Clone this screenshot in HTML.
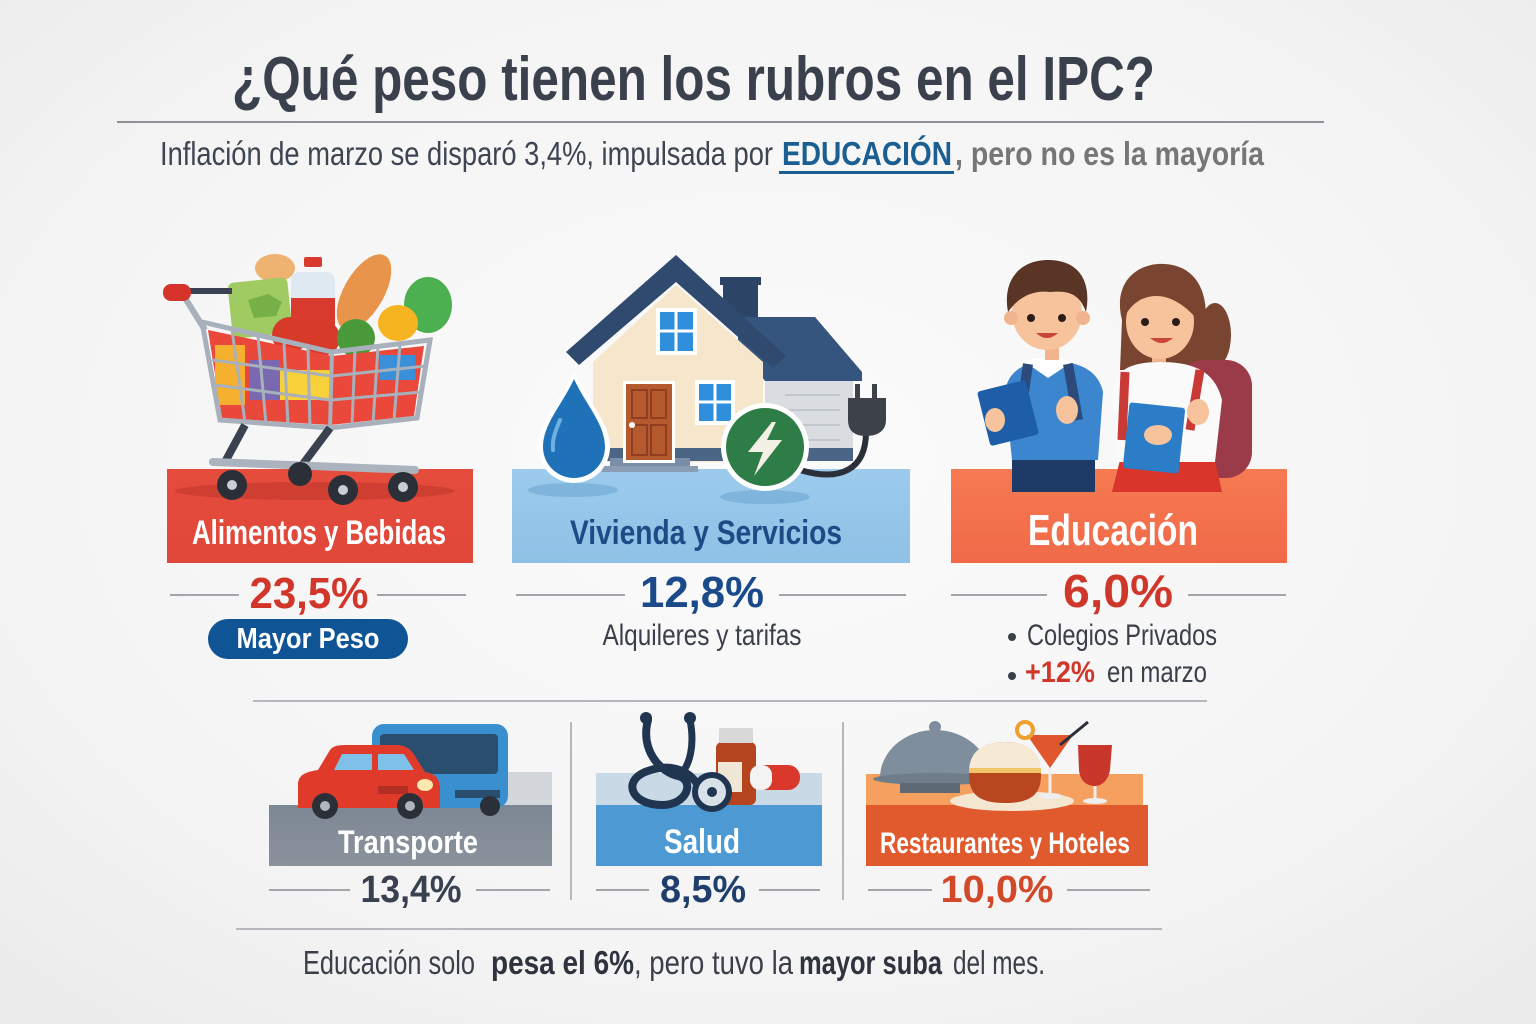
<!DOCTYPE html>
<html><head><meta charset="utf-8"><style>
html,body{margin:0;padding:0;width:1536px;height:1024px;overflow:hidden;background:#f2f2f2}
svg{display:block}
text{font-family:"Liberation Sans Narrow","Liberation Sans",sans-serif}
.b{font-weight:bold}
</style></head><body>
<svg width="1536" height="1024" viewBox="0 0 1536 1024" xmlns="http://www.w3.org/2000/svg">
<defs>
<radialGradient id="bg" cx="50%" cy="45%" r="70%"><stop offset="0" stop-color="#fbfbfb"/><stop offset="0.7" stop-color="#f4f4f4"/><stop offset="1" stop-color="#ececec"/></radialGradient>
<linearGradient id="gRed" x1="0" y1="0" x2="0" y2="1"><stop offset="0" stop-color="#e64c3c"/><stop offset="1" stop-color="#e0473a"/></linearGradient>
<linearGradient id="gBlue" x1="0" y1="0" x2="0" y2="1"><stop offset="0" stop-color="#9ccbec"/><stop offset="1" stop-color="#8fc1e6"/></linearGradient>
<linearGradient id="gOr" x1="0" y1="0" x2="0" y2="1"><stop offset="0" stop-color="#f67a52"/><stop offset="1" stop-color="#f06a48"/></linearGradient>
<linearGradient id="gGray" x1="0" y1="0" x2="0" y2="1"><stop offset="0" stop-color="#7d8794"/><stop offset="1" stop-color="#8a929c"/></linearGradient>
</defs>
<rect width="1536" height="1024" fill="url(#bg)"/>

<!-- Title -->
<text x="232" y="100" font-size="62" class="b" fill="#3b414c" textLength="923" lengthAdjust="spacingAndGlyphs">¿Qué peso tienen los rubros en el IPC?</text>
<line x1="117" y1="122" x2="1324" y2="122" stroke="#8e9298" stroke-width="2"/>
<text x="160" y="165" font-size="33" fill="#3d4452" textLength="613" lengthAdjust="spacingAndGlyphs">Inflación de marzo se disparó 3,4%, impulsada por</text>
<text x="782" y="165" font-size="33" class="b" fill="#1b5e92" textLength="170" lengthAdjust="spacingAndGlyphs">EDUCACIÓN</text>
<rect x="779" y="171" width="175" height="3" fill="#1b5e92"/>
<text x="955" y="165" font-size="33" class="b" fill="#767676" textLength="309" lengthAdjust="spacingAndGlyphs">, pero no es la mayoría</text>

<!-- ===== Panel 1: Alimentos ===== -->
<rect x="167" y="469" width="306" height="94" fill="url(#gRed)"/>
<ellipse cx="315" cy="491" rx="140" ry="9" fill="#c43a2e" opacity="0.7"/>
<!-- food behind -->
<ellipse cx="275" cy="268" rx="20" ry="14" fill="#eeb271"/>
<rect x="230" y="280" width="60" height="56" rx="6" fill="#9fcb62" transform="rotate(-6 260 308)"/>
<path d="M248 300 l20 -6 l14 8 l-6 14 l-22 2z" fill="#78b048"/>
<rect x="291" y="272" width="44" height="56" rx="8" fill="#dfe9f2"/>
<rect x="291" y="298" width="44" height="32" fill="#d93a2e"/>
<rect x="304" y="257" width="18" height="10" rx="2" fill="#d93a2e"/>
<ellipse cx="364" cy="292" rx="20" ry="42" fill="#e8944a" transform="rotate(30 364 292)"/>
<ellipse cx="428" cy="305" rx="24" ry="28" fill="#4caf50"/>
<ellipse cx="398" cy="323" rx="20" ry="18" fill="#f5b420"/>
<circle cx="290" cy="335" r="18" fill="#d83a2a"/>
<circle cx="322" cy="338" r="18" fill="#d83a2a"/>
<circle cx="356" cy="338" r="19" fill="#4a9a3a"/>
<!-- basket contents -->
<polygon points="208,330 332,356 424,346 414,416 330,425 222,418" fill="#e9483a"/>
<rect x="215" y="345" width="30" height="60" fill="#f6b030"/>
<rect x="250" y="360" width="30" height="40" fill="#7a69b0"/>
<rect x="280" y="370" width="50" height="30" fill="#f7d03a"/>
<rect x="380" y="355" width="35" height="25" fill="#3a90d8"/>
<!-- grid -->
<g stroke="#a7b0bb" stroke-width="3" fill="none">
<polygon points="202,322 332,352 430,340 417,418 330,428 220,420" stroke-width="5"/>
<line x1="332" y1="352" x2="330" y2="428" stroke-width="4"/>
<line x1="212" y1="360" x2="331" y2="376"/><line x1="215" y1="385" x2="330" y2="400"/>
<line x1="332" y1="376" x2="426" y2="366"/><line x1="331" y1="400" x2="422" y2="392"/>
<line x1="232" y1="330" x2="245" y2="422"/><line x1="258" y1="336" x2="266" y2="424"/><line x1="284" y1="342" x2="288" y2="426"/><line x1="308" y1="347" x2="310" y2="427"/>
<line x1="355" y1="350" x2="352" y2="426"/><line x1="378" y1="347" x2="373" y2="424"/><line x1="400" y1="344" x2="394" y2="421"/>
</g>
<path d="M185 298 L205 330" stroke="#a7b0bb" stroke-width="6"/>
<line x1="188" y1="291" x2="232" y2="291" stroke="#3a4150" stroke-width="6"/>
<rect x="163" y="284" width="28" height="17" rx="8" fill="#d6332a"/>
<path d="M245 425 L225 462 M330 428 L300 468" stroke="#3a4150" stroke-width="8" fill="none"/>
<line x1="213" y1="462" x2="415" y2="470" stroke="#aab3be" stroke-width="8" stroke-linecap="round"/>
<g fill="#2a2f38"><circle cx="300" cy="474" r="12"/><circle cx="232" cy="485" r="15"/><circle cx="343" cy="490" r="15"/><circle cx="403" cy="487" r="15"/></g>
<g fill="#c9ced4"><circle cx="232" cy="485" r="5"/><circle cx="343" cy="490" r="5"/><circle cx="403" cy="487" r="5"/></g>
<text x="319" y="544" font-size="34" class="b" fill="#fff" text-anchor="middle" textLength="254" lengthAdjust="spacingAndGlyphs">Alimentos y Bebidas</text>
<line x1="170" y1="595" x2="239" y2="595" stroke="#a2a6ab" stroke-width="2"/>
<line x1="377" y1="595" x2="466" y2="595" stroke="#a2a6ab" stroke-width="2"/>
<text x="309" y="608" font-size="44" class="b" fill="#d2362b" text-anchor="middle" textLength="119" lengthAdjust="spacingAndGlyphs">23,5%</text>
<rect x="208" y="619" width="200" height="40" rx="20" fill="#0f5494"/>
<text x="308" y="648" font-size="29" class="b" fill="#fff" text-anchor="middle" textLength="143" lengthAdjust="spacingAndGlyphs">Mayor Peso</text>

<!-- ===== Panel 2: Vivienda ===== -->
<rect x="512" y="469" width="398" height="94" fill="url(#gBlue)"/>
<ellipse cx="573" cy="490" rx="45" ry="7" fill="#6ea6d2" opacity="0.6"/>
<ellipse cx="765" cy="497" rx="45" ry="7" fill="#6ea6d2" opacity="0.6"/>
<!-- side garage -->
<rect x="723" y="282" width="35" height="38" fill="#2c4466"/>
<rect x="720" y="277" width="41" height="8" fill="#2c4466"/>
<polygon points="738,317 815,317 862,372 862,381 765,381 738,345" fill="#35557f"/>
<rect x="765" y="381" width="88" height="78" fill="#d9dde2"/>
<g stroke="#c2c7cd" stroke-width="2"><line x1="785" y1="395" x2="840" y2="395"/><line x1="785" y1="410" x2="840" y2="410"/><line x1="785" y1="425" x2="840" y2="425"/><line x1="785" y1="440" x2="840" y2="440"/></g>
<!-- main house -->
<polygon points="593,362 676,285 763,362 763,462 593,462" fill="#f5e6cc"/>
<polygon points="566,352 676,255 786,356 773,368 676,282 579,365" fill="#2f4a6e"/>
<rect x="593" y="448" width="260" height="13" fill="#4a6585"/>
<rect x="610" y="458" width="80" height="10" fill="#7a8ea8"/>
<rect x="602" y="466" width="96" height="6" fill="#8a9db5"/>
<rect x="623" y="381" width="52" height="82" fill="#fff"/>
<rect x="626" y="384" width="46" height="76" fill="#b5592f"/>
<g fill="none" stroke="#8f3f1f" stroke-width="2"><rect x="632" y="390" width="15" height="28"/><rect x="651" y="390" width="15" height="28"/><rect x="632" y="425" width="15" height="30"/><rect x="651" y="425" width="15" height="30"/></g>
<circle cx="632" cy="425" r="3" fill="#fff"/>
<rect x="656" y="308" width="41" height="47" fill="#fff"/>
<rect x="660" y="312" width="33" height="39" fill="#2f8fdc"/>
<line x1="676" y1="312" x2="676" y2="351" stroke="#fff" stroke-width="3"/><line x1="660" y1="331" x2="693" y2="331" stroke="#fff" stroke-width="3"/>
<rect x="695" y="380" width="40" height="45" fill="#fff"/>
<rect x="699" y="384" width="32" height="37" fill="#2f8fdc"/>
<line x1="715" y1="384" x2="715" y2="421" stroke="#fff" stroke-width="3"/><line x1="699" y1="402" x2="731" y2="402" stroke="#fff" stroke-width="3"/>
<!-- drop -->
<path d="M574 372 C 560 402 538 422 538 447 A 36 36 0 0 0 610 447 C 610 422 588 402 574 372 Z" fill="#fff"/>
<path d="M574 379 C 562 405 543 424 543 447 A 31 31 0 0 0 605 447 C 605 424 586 405 574 379 Z" fill="#1f72b8"/>
<path d="M560 420 C 555 432 552 440 553 450" stroke="#6fb0e4" stroke-width="4" fill="none" stroke-linecap="round"/>
<!-- plug & cable -->
<path d="M866 432 C 866 470 840 482 800 470" stroke="#2a2f38" stroke-width="6" fill="none"/>
<rect x="855" y="384" width="5" height="16" fill="#3d424a"/><rect x="872" y="384" width="5" height="16" fill="#3d424a"/>
<path d="M848 398 H 886 V 420 C 886 432 876 436 866 436 C 856 436 848 432 848 420 Z" fill="#3d424a"/>
<!-- lightning circle -->
<circle cx="765" cy="447" r="44" fill="#fff"/>
<circle cx="765" cy="447" r="39" fill="#2e7d46"/>
<polygon points="772,422 748,452 763,452 754,476 782,440 767,440 776,422" fill="#f3f1e6"/>
<text x="706" y="544" font-size="34" class="b" fill="#1c4b86" text-anchor="middle" textLength="272" lengthAdjust="spacingAndGlyphs">Vivienda y Servicios</text>
<line x1="516" y1="595" x2="625" y2="595" stroke="#a2a6ab" stroke-width="2"/>
<line x1="779" y1="595" x2="906" y2="595" stroke="#a2a6ab" stroke-width="2"/>
<text x="702" y="607" font-size="44" class="b" fill="#1a4a8a" text-anchor="middle" textLength="124" lengthAdjust="spacingAndGlyphs">12,8%</text>
<text x="702" y="645" font-size="30" fill="#3a3f4a" text-anchor="middle" textLength="199" lengthAdjust="spacingAndGlyphs">Alquileres y tarifas</text>

<!-- ===== Panel 3: Educación ===== -->
<rect x="951" y="469" width="336" height="94" fill="url(#gOr)"/>
<!-- boy -->
<rect x="1012" y="450" width="83" height="42" fill="#1e3a66"/>
<path d="M1005 392 C 1008 370 1025 362 1050 360 C 1080 362 1098 370 1103 392 L 1098 460 L 1012 460 Z" fill="#3b86cf"/>
<path d="M1025 362 L 1048 378 L 1072 362 L 1060 358 L 1036 358 Z" fill="#fff"/>
<path d="M1028 364 L 1020 420 M1068 364 L 1078 420" stroke="#2c4a7a" stroke-width="10" fill="none"/>
<rect x="1045" y="340" width="14" height="20" fill="#f2b48e"/>
<ellipse cx="1047" cy="313" rx="35" ry="37" fill="#f6c39c"/>
<circle cx="1011" cy="318" r="7" fill="#f2b48e"/><circle cx="1083" cy="318" r="7" fill="#f2b48e"/>
<path d="M1008 312 C 1002 280 1020 260 1048 260 C 1078 260 1092 280 1086 312 C 1080 295 1070 290 1050 292 C 1035 290 1020 295 1008 312 Z" fill="#5a3526"/>
<circle cx="1031" cy="318" r="4" fill="#2a1c16"/><circle cx="1062" cy="318" r="4" fill="#2a1c16"/>
<path d="M1036 333 Q 1047 343 1058 333 Z" fill="#c8453a"/>
<rect x="983" y="385" width="50" height="56" rx="3" fill="#1e5ea8" transform="rotate(-14 1008 413)"/>
<ellipse cx="995" cy="420" rx="10" ry="12" fill="#f6c39c"/>
<ellipse cx="1067" cy="410" rx="11" ry="14" fill="#f6c39c"/>
<!-- girl -->
<path d="M1122 320 C 1112 280 1140 262 1165 264 C 1195 266 1210 290 1205 330 L 1210 370 L 1120 370 Z" fill="#7a4530"/>
<ellipse cx="1215" cy="335" rx="16" ry="32" fill="#7a4530"/>
<rect x="1178" y="360" width="74" height="118" rx="26" fill="#9b3a48"/>
<path d="M1120 460 L 1215 460 L 1222 492 L 1112 492 Z" fill="#d9352b"/>
<path d="M1112 392 C 1115 370 1130 362 1160 362 C 1195 362 1215 372 1222 400 L 1215 462 L 1118 462 Z" fill="#fafafa"/>
<path d="M1125 372 L 1122 440 M1200 370 L 1190 430" stroke="#c93a36" stroke-width="9" fill="none"/>
<rect x="1152" y="342" width="14" height="20" fill="#f2b48e"/>
<ellipse cx="1160" cy="322" rx="34" ry="37" fill="#f6c39c"/>
<path d="M1124 318 C 1120 285 1140 270 1165 270 C 1190 270 1205 290 1196 318 C 1180 300 1160 290 1140 300 C 1132 305 1128 310 1124 318 Z" fill="#7a4530"/>
<circle cx="1145" cy="322" r="4" fill="#2a1c16"/><circle cx="1176" cy="322" r="4" fill="#2a1c16"/>
<path d="M1150 338 Q 1162 348 1173 338 Z" fill="#c8453a"/>
<rect x="1126" y="405" width="56" height="66" rx="3" fill="#2c7dc8" transform="rotate(6 1154 438)"/>
<ellipse cx="1158" cy="435" rx="14" ry="10" fill="#f6c39c"/>
<ellipse cx="1198" cy="412" rx="11" ry="13" fill="#f6c39c"/>
<text x="1113" y="545" font-size="44" class="b" fill="#fff" text-anchor="middle" textLength="170" lengthAdjust="spacingAndGlyphs">Educación</text>
<line x1="951" y1="595" x2="1047" y2="595" stroke="#a2a6ab" stroke-width="2"/>
<line x1="1188" y1="595" x2="1286" y2="595" stroke="#a2a6ab" stroke-width="2"/>
<text x="1118" y="607" font-size="46" class="b" fill="#d0372b" text-anchor="middle" textLength="110" lengthAdjust="spacingAndGlyphs">6,0%</text>
<circle cx="1012" cy="637" r="4" fill="#3a3f4a"/>
<text x="1027" y="645" font-size="30" fill="#3a3f4a" textLength="190" lengthAdjust="spacingAndGlyphs">Colegios Privados</text>
<circle cx="1012" cy="676" r="4" fill="#3a3f4a"/>
<text x="1025" y="682" font-size="30" class="b" fill="#d0372b" textLength="70" lengthAdjust="spacingAndGlyphs">+12%</text>
<text x="1107" y="682" font-size="30" fill="#3a3f4a" textLength="100" lengthAdjust="spacingAndGlyphs">en marzo</text>

<line x1="253" y1="701" x2="1207" y2="701" stroke="#b4b7bb" stroke-width="2"/>

<!-- ===== Transporte ===== -->
<rect x="430" y="772" width="122" height="33" fill="#d3d6da"/>
<rect x="269" y="805" width="283" height="61" fill="url(#gGray)"/>
<rect x="372" y="724" width="136" height="84" rx="12" fill="#3a8fcf"/>
<rect x="380" y="734" width="118" height="40" rx="4" fill="#2a4f6e"/>
<rect x="455" y="790" width="45" height="8" fill="#2a4f6e"/>
<circle cx="490" cy="806" r="10" fill="#2a2f38"/>
<path d="M298 808 L 298 785 C 298 775 305 772 318 770 L 330 750 C 334 745 340 745 350 745 L 395 745 C 405 745 410 748 415 756 L 425 772 C 437 774 440 780 440 790 L 440 808 Z" fill="#e03b2a"/>
<path d="M334 770 L 342 754 L 372 754 L 372 770 Z M378 770 L 378 754 L 404 754 L 414 770 Z" fill="#7fc0e8"/>
<rect x="378" y="786" width="30" height="8" fill="#b22e22"/>
<ellipse cx="425" cy="785" rx="8" ry="6" fill="#fde9b0"/>
<circle cx="325" cy="806" r="13" fill="#2a2f38"/><circle cx="410" cy="806" r="13" fill="#2a2f38"/>
<circle cx="325" cy="806" r="5" fill="#b0b6bd"/><circle cx="410" cy="806" r="5" fill="#b0b6bd"/>
<text x="408" y="853" font-size="32" class="b" fill="#fff" text-anchor="middle" textLength="140" lengthAdjust="spacingAndGlyphs">Transporte</text>
<line x1="269" y1="890" x2="350" y2="890" stroke="#a2a6ab" stroke-width="2"/>
<line x1="476" y1="890" x2="550" y2="890" stroke="#a2a6ab" stroke-width="2"/>
<text x="411" y="902" font-size="38" class="b" fill="#394050" text-anchor="middle" textLength="101" lengthAdjust="spacingAndGlyphs">13,4%</text>

<line x1="571" y1="722" x2="571" y2="900" stroke="#b4b7bb" stroke-width="2"/>

<!-- ===== Salud ===== -->
<rect x="596" y="773" width="226" height="32" fill="#c9d9e6"/>
<rect x="596" y="805" width="226" height="61" fill="#4c99d4"/>
<path d="M648 720 C 640 750 660 772 678 776 C 695 780 688 805 662 805 C 632 805 622 782 645 772 C 670 762 692 770 700 790" stroke="#1f3550" stroke-width="8" fill="none" stroke-linecap="round"/>
<path d="M690 720 C 695 745 690 765 680 775" stroke="#1f3550" stroke-width="7" fill="none" stroke-linecap="round"/>
<circle cx="646" cy="718" r="6" fill="#1f3550"/><circle cx="690" cy="718" r="6" fill="#1f3550"/>
<rect x="716" y="742" width="40" height="63" rx="6" fill="#b5451f"/>
<rect x="719" y="728" width="34" height="15" rx="2" fill="#d8d8d8"/>
<rect x="718" y="762" width="24" height="30" fill="#f0e6d6"/>
<rect x="750" y="765" width="50" height="25" rx="12" fill="#d9382b"/>
<rect x="750" y="765" width="22" height="25" rx="10" fill="#f3f3f3"/>
<circle cx="712" cy="792" r="17" fill="#d8e0e8" stroke="#1f3550" stroke-width="6"/>
<circle cx="712" cy="792" r="5" fill="#1f3550"/>
<text x="702" y="853" font-size="34" class="b" fill="#fff" text-anchor="middle" textLength="76" lengthAdjust="spacingAndGlyphs">Salud</text>
<line x1="596" y1="890" x2="649" y2="890" stroke="#a2a6ab" stroke-width="2"/>
<line x1="759" y1="890" x2="820" y2="890" stroke="#a2a6ab" stroke-width="2"/>
<text x="703" y="902" font-size="38" class="b" fill="#1f3e6c" text-anchor="middle" textLength="86" lengthAdjust="spacingAndGlyphs">8,5%</text>

<line x1="843" y1="722" x2="843" y2="900" stroke="#b4b7bb" stroke-width="2"/>

<!-- ===== Restaurantes ===== -->
<rect x="866" y="774" width="277" height="31" fill="#f5a05e"/>
<rect x="866" y="805" width="282" height="61" fill="#e05a2e"/>
<path d="M880 778 A 55 48 0 0 1 990 778 Z" fill="#7f8e9c"/>
<circle cx="935" cy="727" r="6" fill="#7f8e9c"/>
<ellipse cx="935" cy="779" rx="62" ry="6" fill="#6f7d8a"/>
<rect x="900" y="783" width="60" height="10" fill="#5d6a76"/>
<ellipse cx="1012" cy="801" rx="62" ry="10" fill="#f5e6d0"/>
<path d="M969 775 C 969 750 985 742 1005 742 C 1025 742 1041 750 1041 775 C 1041 795 1030 803 1005 803 C 980 803 969 795 969 775 Z" fill="#b8461e"/>
<path d="M969 772 C 969 750 985 742 1005 742 C 1025 742 1041 750 1041 772 Z" fill="#f6ead6"/>
<rect x="969" y="768" width="72" height="5" fill="#f3c56a"/>
<polygon points="1027,735 1073,735 1050,768" fill="#e0572e"/>
<line x1="1050" y1="768" x2="1050" y2="795" stroke="#eee" stroke-width="3"/>
<ellipse cx="1050" cy="796" rx="12" ry="3" fill="#eee"/>
<circle cx="1025" cy="730" r="8" fill="none" stroke="#f0a030" stroke-width="4"/>
<line x1="1060" y1="745" x2="1088" y2="722" stroke="#2a2f38" stroke-width="3"/>
<path d="M1078 745 L 1112 745 L 1110 770 C 1108 782 1100 786 1095 786 C 1088 786 1080 782 1079 770 Z" fill="#c9362a"/>
<line x1="1095" y1="786" x2="1095" y2="800" stroke="#eee" stroke-width="3"/>
<ellipse cx="1095" cy="801" rx="12" ry="3" fill="#eee"/>
<text x="1005" y="853" font-size="30" class="b" fill="#fff" text-anchor="middle" textLength="250" lengthAdjust="spacingAndGlyphs">Restaurantes y Hoteles</text>
<line x1="868" y1="890" x2="932" y2="890" stroke="#a2a6ab" stroke-width="2"/>
<line x1="1067" y1="890" x2="1150" y2="890" stroke="#a2a6ab" stroke-width="2"/>
<text x="997" y="902" font-size="38" class="b" fill="#d2492a" text-anchor="middle" textLength="113" lengthAdjust="spacingAndGlyphs">10,0%</text>

<line x1="236" y1="929" x2="1162" y2="929" stroke="#b4b7bb" stroke-width="2"/>

<!-- Footer -->
<text x="303" y="974" font-size="33" fill="#3a3f4a" textLength="172" lengthAdjust="spacingAndGlyphs">Educación solo</text>
<text x="491" y="974" font-size="33" class="b" fill="#2e333d" textLength="143" lengthAdjust="spacingAndGlyphs">pesa el 6%</text>
<text x="634" y="974" font-size="33" fill="#3a3f4a" textLength="159" lengthAdjust="spacingAndGlyphs">, pero tuvo la</text>
<text x="799" y="974" font-size="33" class="b" fill="#2e333d" textLength="143" lengthAdjust="spacingAndGlyphs">mayor suba</text>
<text x="953" y="974" font-size="33" fill="#3a3f4a" textLength="92" lengthAdjust="spacingAndGlyphs">del mes.</text>
</svg>
</body></html>
